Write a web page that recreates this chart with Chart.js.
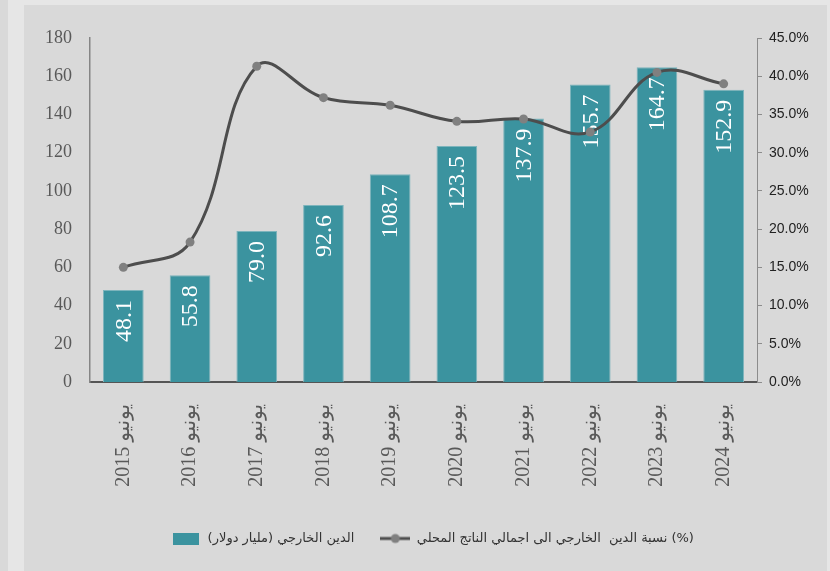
<!DOCTYPE html>
<html>
<head>
<meta charset="utf-8">
<script src="https://cdn.jsdelivr.net/npm/chart.js@4.4.1/dist/chart.umd.min.js"></script>
<style>
    html, body { margin: 0; padding: 0; }
    body { width: 830px; height: 571px; background: #e6e6e6; position: relative; overflow: hidden; }
    #strip { position: absolute; left: 0; top: 0; width: 8px; height: 571px; background: #d9d9d9; }
    #wrap { position: absolute; left: 24px; top: 5px; width: 803px; height: 566px; background: #d9d9d9; }
</style>
</head>
<body>
<div id="strip"></div>
<div id="wrap"><canvas id="debtChart"></canvas></div>
<script>
// Data
const years = ['2015', '2016', '2017', '2018', '2019', '2020', '2021', '2022', '2023', '2024'];
const monthName = 'يونيو';
const externalDebt = [48.1, 55.8, 79.0, 92.6, 108.7, 123.5, 137.9, 155.7, 164.7, 152.9];
const debtToGdp = [15.0, 18.3, 41.3, 37.2, 36.2, 34.1, 34.4, 32.7, 40.5, 39.0];

const barLabel = 'الدين الخارجي (مليار دولار)';
const lineLabel = 'نسبة الدين  الخارجي الى اجمالي الناتج المحلي (%)';

const colors = {
    bar: '#3b939f',
    barEdge: '#7db4bc',
    line: '#4d4d4d',
    point: '#808080',
    axisText: '#595959'
};

const labels = years.map(y => y + ' ' + monthName);

// small canvases used as legend markers
function barMarker() {
    const c = document.createElement('canvas');
    c.width = 26; c.height = 12;
    const g = c.getContext('2d');
    g.fillStyle = colors.bar;
    g.fillRect(0, 0, 26, 12);
    return c;
}
function lineMarker() {
    const c = document.createElement('canvas');
    c.width = 30; c.height = 12;
    const g = c.getContext('2d');
    g.strokeStyle = colors.line;
    g.lineWidth = 3;
    g.beginPath();
    g.moveTo(0, 6);
    g.lineTo(30, 6);
    g.stroke();
    g.fillStyle = colors.point;
    g.beginPath();
    g.arc(15, 6, 4.5, 0, Math.PI * 2);
    g.fill();
    return c;
}

// value labels written inside the bars, rotated
const barValues = {
    id: 'barValues',
    afterDatasetDraw(chart, args) {
        if (args.index !== 0) return;
        const ctx = chart.ctx;
        ctx.save();
        ctx.fillStyle = '#ffffff';
        ctx.font = "24px 'Liberation Serif', serif";
        ctx.textAlign = 'right';
        ctx.textBaseline = 'middle';
        args.meta.data.forEach((bar, i) => {
            ctx.save();
            ctx.translate(bar.x, bar.y + 10);
            ctx.rotate(-Math.PI / 2);
            ctx.fillText(externalDebt[i].toFixed(1), 0, 1);
            ctx.restore();
        });
        ctx.restore();
    }
};

new Chart(document.getElementById('debtChart'), {
    type: 'bar',
    data: {
        labels: labels,
        datasets: [
            {
                type: 'bar',
                label: barLabel,
                data: externalDebt,
                backgroundColor: colors.bar,
                borderColor: colors.barEdge,
                borderWidth: 1,
                barPercentage: 0.61,
                categoryPercentage: 1,
                yAxisID: 'y',
                order: 1
            },
            {
                type: 'line',
                label: lineLabel,
                data: debtToGdp,
                borderColor: colors.line,
                borderWidth: 3,
                tension: 0.4,
                pointRadius: 4.5,
                pointBackgroundColor: colors.point,
                pointBorderWidth: 0,
                yAxisID: 'y1',
                order: 0
            }
        ]
    },
    options: {
        responsive: true,
        maintainAspectRatio: false,
        animation: false,
        layout: {
            padding: { top: 33, bottom: 16, left: 14, right: 0 }
        },
        scales: {
            x: {
                grid: { display: false },
                border: { display: true, color: '#555555', width: 2 },
                ticks: {
                    maxRotation: 90,
                    minRotation: 90,
                    padding: 14,
                    color: colors.axisText,
                    font: { family: "'Liberation Serif', 'DejaVu Sans', serif", size: 20 }
                },
                afterFit: scale => { scale.height = 124; }
            },
            y: {
                position: 'left',
                min: 0,
                max: 180,
                grid: { display: false },
                border: { display: true, color: '#858585', width: 1.5 },
                ticks: {
                    stepSize: 20,
                    padding: 10,
                    color: colors.axisText,
                    font: { family: "'Liberation Serif', serif", size: 18 }
                },
                afterFit: scale => { scale.width = 52; }
            },
            y1: {
                position: 'right',
                min: 0,
                max: 45,
                grid: {
                    display: true,
                    drawOnChartArea: false,
                    drawTicks: true,
                    tickLength: 5,
                    color: '#8c8c8c'
                },
                border: { display: true, color: '#8c8c8c', width: 1 },
                ticks: {
                    stepSize: 5,
                    padding: 7,
                    color: '#222222',
                    font: { family: "'Liberation Sans', Arial, sans-serif", size: 14 },
                    callback: value => value.toFixed(1) + '%'
                },
                afterFit: scale => { scale.width = 70; }
            }
        },
        plugins: {
            legend: {
                position: 'bottom',
                labels: {
                    usePointStyle: true,
                    pointStyleWidth: 30,
                    boxHeight: 12,
                    padding: 26,
                    color: '#333333',
                    font: { family: "'DejaVu Sans', sans-serif", size: 13 },
                    generateLabels: chart => chart.data.datasets.map((ds, i) => ({
                        text: ds.label,
                        pointStyle: i === 0 ? barMarker() : lineMarker(),
                        fillStyle: 'transparent',
                        strokeStyle: 'transparent',
                        lineWidth: 0,
                        fontColor: '#333333',
                        datasetIndex: i,
                        hidden: false
                    }))
                }
            },
            tooltip: { enabled: false }
        }
    },
    plugins: [barValues]
});
</script>
</body>
</html>
